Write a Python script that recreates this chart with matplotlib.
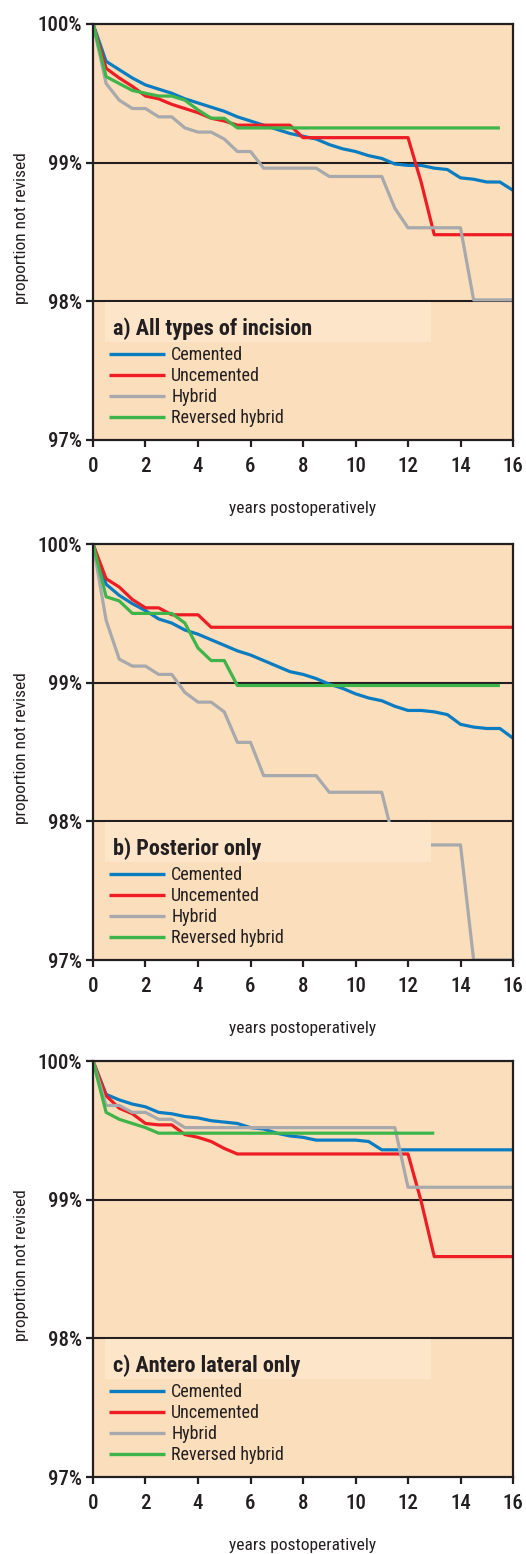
import matplotlib
matplotlib.use("Agg")
import matplotlib.pyplot as plt
from matplotlib.patches import Rectangle

plt.rcParams['font.family'] = ['Roboto Condensed', 'Liberation Sans Narrow', 'DejaVu Sans']
plt.rcParams['font.stretch'] = 'condensed'

# time points (years), every half year
years = [0, 0.5, 1, 1.5, 2, 2.5, 3, 3.5, 4, 4.5, 5, 5.5, 6, 6.5, 7, 7.5,
         8, 8.5, 9, 9.5, 10, 10.5, 11, 11.5, 12, 12.5, 13, 13.5, 14, 14.5,
         15, 15.5, 16]

# a) All types of incision
a_cemented = [100, 99.73, 99.67, 99.61, 99.56, 99.53, 99.50, 99.46, 99.43, 99.40,
              99.37, 99.33, 99.30, 99.27, 99.24, 99.21, 99.19, 99.17, 99.13, 99.10,
              99.08, 99.05, 99.03, 98.99, 98.98, 98.98, 98.96, 98.95, 98.89, 98.88,
              98.86, 98.86, 98.80]
a_uncemented = [100, 99.68, 99.61, 99.55, 99.48, 99.46, 99.42, 99.39, 99.36, 99.32,
                99.30, 99.27, 99.27, 99.27, 99.27, 99.27, 99.18, 99.18, 99.18, 99.18,
                99.18, 99.18, 99.18, 99.18, 99.18, 98.86, 98.48, 98.48, 98.48, 98.48,
                98.48, 98.48, 98.48]
a_hybrid = [100, 99.57, 99.45, 99.39, 99.39, 99.33, 99.33, 99.25, 99.22, 99.22,
            99.17, 99.08, 99.08, 98.96, 98.96, 98.96, 98.96, 98.96, 98.90, 98.90,
            98.90, 98.90, 98.90, 98.67, 98.53, 98.53, 98.53, 98.53, 98.53, 98.01,
            98.01, 98.01, 98.01]
a_reversed = [100, 99.62, 99.57, 99.52, 99.50, 99.48, 99.48, 99.45, 99.38, 99.32,
              99.32, 99.25, 99.25, 99.25, 99.25, 99.25, 99.25, 99.25, 99.25, 99.25,
              99.25, 99.25, 99.25, 99.25, 99.25, 99.25, 99.25, 99.25, 99.25, 99.25,
              99.25, 99.25]

# b) Posterior only
b_cemented = [100, 99.71, 99.63, 99.57, 99.52, 99.46, 99.43, 99.38, 99.35, 99.31,
              99.27, 99.23, 99.20, 99.16, 99.12, 99.08, 99.06, 99.03, 98.99, 98.96,
              98.92, 98.89, 98.87, 98.83, 98.80, 98.80, 98.79, 98.77, 98.70, 98.68,
              98.67, 98.67, 98.60]
b_uncemented = [100, 99.75, 99.69, 99.60, 99.54, 99.54, 99.49, 99.49, 99.49, 99.40,
                99.40, 99.40, 99.40, 99.40, 99.40, 99.40, 99.40, 99.40, 99.40, 99.40,
                99.40, 99.40, 99.40, 99.40, 99.40, 99.40, 99.40, 99.40, 99.40, 99.40,
                99.40, 99.40, 99.40]
b_hybrid = [100, 99.45, 99.17, 99.12, 99.12, 99.06, 99.06, 98.93, 98.86, 98.86,
            98.79, 98.57, 98.57, 98.33, 98.33, 98.33, 98.33, 98.33, 98.21, 98.21,
            98.21, 98.21, 98.21, 97.83, 97.83, 97.83, 97.83, 97.83, 97.83, 97.00,
            97.00, 97.00, 97.00]
b_reversed = [100, 99.62, 99.59, 99.50, 99.50, 99.50, 99.50, 99.43, 99.25, 99.16,
              99.16, 98.98, 98.98, 98.98, 98.98, 98.98, 98.98, 98.98, 98.98, 98.98,
              98.98, 98.98, 98.98, 98.98, 98.98, 98.98, 98.98, 98.98, 98.98, 98.98,
              98.98, 98.98]

# c) Antero lateral only
c_cemented = [100, 99.76, 99.72, 99.69, 99.67, 99.63, 99.62, 99.60, 99.59, 99.57,
              99.56, 99.55, 99.52, 99.51, 99.48, 99.46, 99.45, 99.43, 99.43, 99.43,
              99.43, 99.42, 99.36, 99.36, 99.36, 99.36, 99.36, 99.36, 99.36, 99.36,
              99.36, 99.36, 99.36]
c_uncemented = [100, 99.75, 99.66, 99.62, 99.55, 99.54, 99.54, 99.47, 99.45, 99.42,
                99.37, 99.33, 99.33, 99.33, 99.33, 99.33, 99.33, 99.33, 99.33, 99.33,
                99.33, 99.33, 99.33, 99.33, 99.33, 98.99, 98.59, 98.59, 98.59, 98.59,
                98.59, 98.59, 98.59]
c_hybrid = [100, 99.68, 99.68, 99.63, 99.63, 99.58, 99.58, 99.52, 99.52, 99.52,
            99.52, 99.52, 99.52, 99.52, 99.52, 99.52, 99.52, 99.52, 99.52, 99.52,
            99.52, 99.52, 99.52, 99.52, 99.09, 99.09, 99.09, 99.09, 99.09, 99.09,
            99.09, 99.09, 99.09]
c_reversed = [100, 99.63, 99.58, 99.55, 99.52, 99.48, 99.48, 99.48, 99.48, 99.48,
              99.48, 99.48, 99.48, 99.48, 99.48, 99.48, 99.48, 99.48, 99.48, 99.48,
              99.48, 99.48, 99.48, 99.48, 99.48, 99.48, 99.48]

series_names = ["Cemented", "Uncemented", "Hybrid", "Reversed hybrid"]
colors = ["#0A7DC2", "#EE1D25", "#A7A9AC", "#3DB54A"]
titles = ["a) All types of incision", "b) Posterior only", "c) Antero lateral only"]
panels = [
    [a_cemented, a_uncemented, a_hybrid, a_reversed],
    [b_cemented, b_uncemented, b_hybrid, b_reversed],
    [c_cemented, c_uncemented, c_hybrid, c_reversed],
]

bg = "#FBDEBB"
dark = "#231F20"

fig = plt.figure(figsize=(5.26, 15.54), dpi=100)
bottoms = [0.7169, 0.3822, 0.0495]

for bot, title, data in zip(bottoms, titles, panels):
    ax = fig.add_axes([0.1768, bot, 0.7985, 0.2677])
    ax.set_facecolor(bg)
    for yv in [99, 98]:
        ax.axhline(yv, color=dark, lw=1.5, zorder=1)
    handles = []
    for name, col, vals in zip(series_names, colors, data):
        h, = ax.plot(years[:len(vals)], vals, color=col, lw=2.3, label=name,
                     solid_capstyle="butt", zorder=2)
        handles.append(h)
    ax.set_xlim(0, 16)
    ax.set_ylim(97, 100)
    ax.set_xticks(range(0, 17, 2))
    ax.set_yticks([97, 98, 99, 100])
    ax.set_yticklabels(["97%", "98%", "99%", "100%"])
    for s in ax.spines.values():
        s.set_color(dark)
        s.set_linewidth(1.6)
    ax.tick_params(colors=dark, labelsize=15, width=1.6, length=5, direction="out")
    ax.tick_params(axis="x", pad=7)
    ax.tick_params(axis="y", pad=3)
    for lab in ax.get_xticklabels() + ax.get_yticklabels():
        lab.set_fontweight("medium")

    ax.set_xlabel("years postoperatively", fontsize=12.5, color=dark)
    ax.xaxis.set_label_coords(0.5, -0.146)
    ax.set_ylabel("proportion not revised", fontsize=12.5, color=dark)
    ax.yaxis.set_label_coords(-0.152, 0.51)

    # title box
    ax.add_patch(Rectangle((0.0286, 0.236), 0.776, 0.096, transform=ax.transAxes,
                           facecolor="#FDE5CA", edgecolor="none", zorder=3))
    ax.text(0.048, 0.268, title, transform=ax.transAxes, fontsize=16,
            fontweight="bold", color=dark, va="center", ha="left", zorder=4)

    leg = ax.legend(handles=handles, loc="upper left", bbox_to_anchor=(0.038, 0.226),
                    frameon=False, fontsize=13, handlelength=3.1,
                    handletextpad=0.35, labelspacing=0.17, borderpad=0,
                    borderaxespad=0)
    for t in leg.get_texts():
        t.set_color(dark)
    for l in leg.get_lines():
        l.set_linewidth(2.4)
    leg.set_zorder(5)

fig.savefig("out.png", dpi=100)
